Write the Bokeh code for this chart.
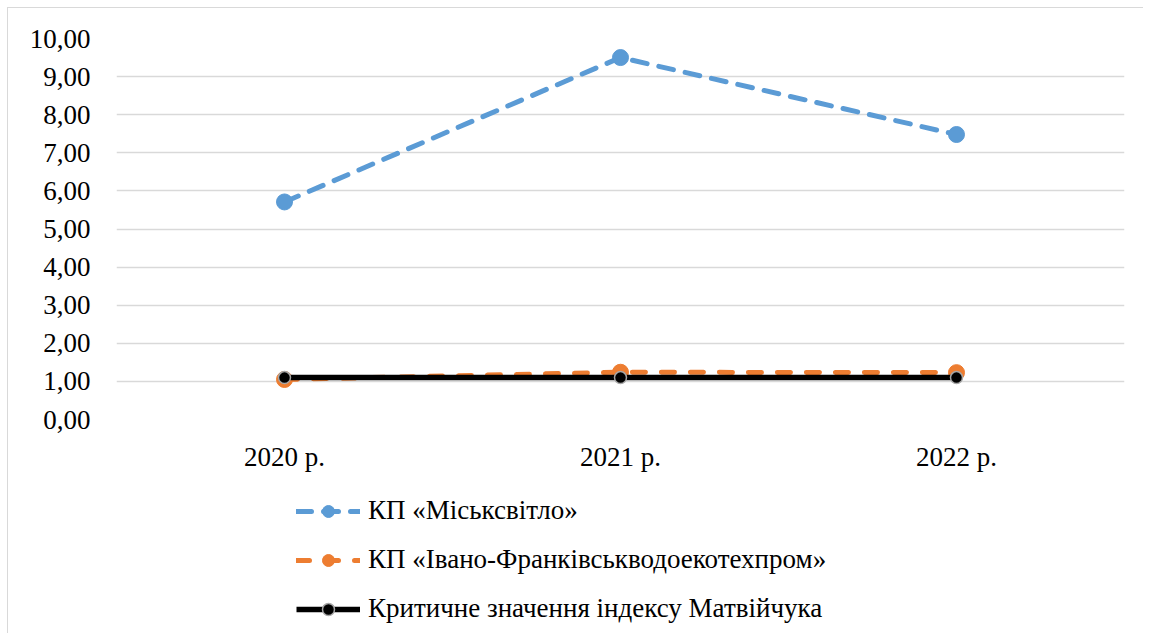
from bokeh.plotting import figure
from bokeh.layouts import column
from bokeh.models import FactorRange, Range1d, FixedTicker, CustomJSTickFormatter, Legend, LegendItem
from bokeh.embed import file_html
from bokeh.resources import INLINE

years = ["2020 р.", "2021 р.", "2022 р."]
miskysvitlo = [5.71, 9.50, 7.48]
vodoekotekhprom = [1.05, 1.24, 1.23]
critical = [1.10, 1.10, 1.10]
y_ticks = [0, 1, 2, 3, 4, 5, 6, 7, 8, 9, 10]
labels = ["КП «Міськсвітло»", "КП «Івано-Франківськводоекотехпром»", "Критичне значення індексу Матвійчука"]

FONT = "Liberation Serif"
blue = "#5B9BD5"
orange = "#ED7D31"

p = figure(x_range=FactorRange(*years), y_range=Range1d(0, 10),
           width=1135, height=471, output_backend="svg", toolbar_location=None,
           min_border_left=108, min_border_right=19, min_border_top=30, min_border_bottom=60)
p.x_range.range_padding = 0
p.outline_line_color = None
p.background_fill_color = "white"
p.border_fill_color = "white"

p.xgrid.grid_line_color = None
p.ygrid.grid_line_color = "#d9d9d9"
p.ygrid.grid_line_width = 1.3

p.yaxis.ticker = FixedTicker(ticks=y_ticks)
p.yaxis.formatter = CustomJSTickFormatter(code="return tick.toFixed(2).replace('.', ',');")
for ax in (p.xaxis, p.yaxis):
    ax.axis_line_color = None
    ax.major_tick_line_color = None
    ax.minor_tick_line_color = None
    ax.major_tick_out = 0
    ax.major_tick_in = 0
    ax.major_label_text_font = FONT
    ax.major_label_text_font_size = "27px"
    ax.major_label_text_color = "#000000"
p.yaxis.major_label_standoff = 26
p.xaxis.major_label_standoff = 22


def draw(fig):
    r1 = fig.line(years, miskysvitlo, line_color=blue, line_width=5, line_dash="15 12", line_cap="round")
    m1 = fig.scatter(years, miskysvitlo, size=16, fill_color=blue, line_color=blue)
    r2 = fig.line(years, vodoekotekhprom, line_color=orange, line_width=5, line_dash="13 16", line_cap="round")
    m2 = fig.scatter(years, vodoekotekhprom, size=16, fill_color=orange, line_color=orange)
    r3 = fig.line(years, critical, line_color="black", line_width=5.5)
    m3 = fig.scatter(years, critical, size=12, fill_color="black", line_color="#a6a6a6", line_width=1.5)
    return [(r1, m1), (r2, m2), (r3, m3)]


draw(p)

# legend panel (same series, drawn out of view; only the legend is visible)
lp = figure(x_range=FactorRange(*years), y_range=Range1d(100, 101),
            width=1135, height=154, output_backend="svg", toolbar_location=None,
            x_axis_location=None, y_axis_location=None,
            min_border_left=0, min_border_right=0, min_border_top=0, min_border_bottom=0)
lp.outline_line_color = None
lp.grid.grid_line_color = None
lp.border_fill_color = "white"
rs = draw(lp)

legend = Legend(items=[LegendItem(label=labels[i], renderers=list(rs[i])) for i in range(3)],
                location=(180, 9), orientation="vertical")
legend.glyph_width = 64
legend.glyph_height = 30
legend.label_height = 30
legend.spacing = 18
legend.padding = 0
legend.margin = 0
legend.label_standoff = 8
legend.border_line_color = None
legend.background_fill_alpha = 0
legend.label_text_font = FONT
legend.label_text_font_size = "27px"
legend.label_text_color = "#000000"
lp.add_layout(legend, "center")

layout = column(p, lp, spacing=0)
layout.styles = {"margin-left": "7px", "margin-top": "7px",
                 "border-top": "1px solid #d9d9d9", "border-left": "1px solid #d9d9d9"}

open("out.html", "w").write(file_html(layout, INLINE))
